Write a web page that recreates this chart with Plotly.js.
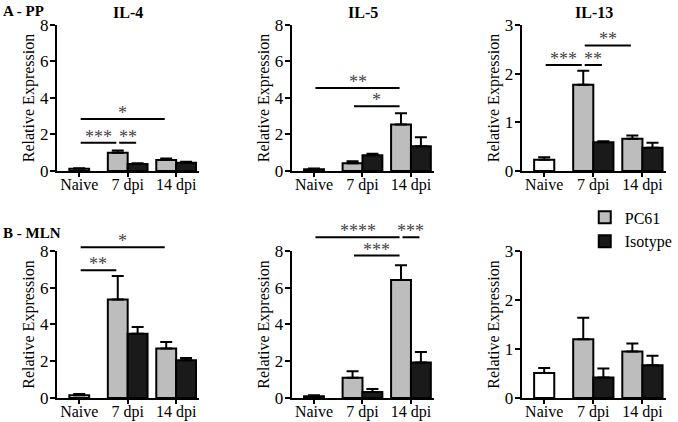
<!DOCTYPE html>
<html><head><meta charset="utf-8">
<script src="https://cdn.plot.ly/plotly-3.0.1.min.js"></script>
<style>html,body{margin:0;padding:0;background:#fff}#chart{width:678px;height:422px}</style>
</head><body><div id="chart"></div>
<script>
// ---- data ----
const categories = ['Naive', '7 dpi', '14 dpi'];
const infectedGroups = ['7 dpi', '14 dpi'];
const seriesNames = ['PC61', 'Isotype'];
const cytokines = ['IL-4', 'IL-5', 'IL-13'];
const tissues = ['A - PP', 'B - MLN'];
const yTicks8 = [0, 2, 4, 6, 8];
const yTicks3 = [0, 1, 2, 3];
const yTitle = 'Relative Expression';

// A - PP
const ppIL4Naive = [0.12], ppIL4NaiveErr = [0.03];
const ppIL4PC61 = [1.0, 0.6], ppIL4PC61Err = [0.12, 0.08];
const ppIL4Iso = [0.38, 0.45], ppIL4IsoErr = [0.05, 0.05];
const ppIL4Sig = [['Naive', '14P', 2.85, '*'], ['Naive', '7P', 1.55, '***'], ['7P', '7I', 1.55, '**']];

const ppIL5Naive = [0.1], ppIL5NaiveErr = [0.03];
const ppIL5PC61 = [0.42, 2.55], ppIL5PC61Err = [0.12, 0.62];
const ppIL5Iso = [0.86, 1.35], ppIL5IsoErr = [0.08, 0.5];
const ppIL5Sig = [['Naive', '14P', 4.55, '**'], ['7P', '14P', 3.55, '*']];

const ppIL13Naive = [0.23], ppIL13NaiveErr = [0.05];
const ppIL13PC61 = [1.77, 0.66], ppIL13PC61Err = [0.29, 0.07];
const ppIL13Iso = [0.59, 0.48], ppIL13IsoErr = [0.02, 0.1];
const ppIL13Sig = [['Naive', '7P', 2.18, '***'], ['7P', '7I', 2.18, '**'], ['7P', '14P', 2.58, '**']];

// B - MLN
const mlnIL4Naive = [0.15], mlnIL4NaiveErr = [0.07];
const mlnIL4PC61 = [5.36, 2.7], mlnIL4PC61Err = [1.28, 0.35];
const mlnIL4Iso = [3.5, 2.05], mlnIL4IsoErr = [0.37, 0.12];
const mlnIL4Sig = [['Naive', '14P', 8.2, '*'], ['Naive', '7P', 6.95, '**']];

const mlnIL5Naive = [0.1], mlnIL5NaiveErr = [0.05];
const mlnIL5PC61 = [1.1, 6.42], mlnIL5PC61Err = [0.35, 0.8];
const mlnIL5Iso = [0.32, 1.93], mlnIL5IsoErr = [0.17, 0.57];
const mlnIL5Sig = [['Naive', '14P', 8.75, '****'], ['7P', '14P', 7.75, '***'], ['14P', '14I', 8.75, '***']];

const mlnIL13Naive = [0.51], mlnIL13NaiveErr = [0.1];
const mlnIL13PC61 = [1.2, 0.95], mlnIL13PC61Err = [0.44, 0.16];
const mlnIL13Iso = [0.42, 0.67], mlnIL13IsoErr = [0.18, 0.19];
const mlnIL13Sig = [];

// ---- layout helpers ----
const FONT = 'Liberation Serif';
const colDomains = [[0.0855, 0.2994], [0.438, 0.652], [0.7832, 1.0]];
const rowDomains = [[0.5948, 0.9408], [0.0569, 0.4052]];
const barW = 0.41;
const GRAY = '#bdbdbd', BLACK = '#1a1a1a';

const panels = [
  {naive: ppIL4Naive, naiveErr: ppIL4NaiveErr, pc: ppIL4PC61, pcErr: ppIL4PC61Err, iso: ppIL4Iso, isoErr: ppIL4IsoErr, sig: ppIL4Sig, ticks: yTicks8},
  {naive: ppIL5Naive, naiveErr: ppIL5NaiveErr, pc: ppIL5PC61, pcErr: ppIL5PC61Err, iso: ppIL5Iso, isoErr: ppIL5IsoErr, sig: ppIL5Sig, ticks: yTicks8},
  {naive: ppIL13Naive, naiveErr: ppIL13NaiveErr, pc: ppIL13PC61, pcErr: ppIL13PC61Err, iso: ppIL13Iso, isoErr: ppIL13IsoErr, sig: ppIL13Sig, ticks: yTicks3},
  {naive: mlnIL4Naive, naiveErr: mlnIL4NaiveErr, pc: mlnIL4PC61, pcErr: mlnIL4PC61Err, iso: mlnIL4Iso, isoErr: mlnIL4IsoErr, sig: mlnIL4Sig, ticks: yTicks8},
  {naive: mlnIL5Naive, naiveErr: mlnIL5NaiveErr, pc: mlnIL5PC61, pcErr: mlnIL5PC61Err, iso: mlnIL5Iso, isoErr: mlnIL5IsoErr, sig: mlnIL5Sig, ticks: yTicks8},
  {naive: mlnIL13Naive, naiveErr: mlnIL13NaiveErr, pc: mlnIL13PC61, pcErr: mlnIL13PC61Err, iso: mlnIL13Iso, isoErr: mlnIL13IsoErr, sig: mlnIL13Sig, ticks: yTicks3}
];

function barCenter(key) {
  if (key === 'Naive') return 0;
  const cat = key.startsWith('14') ? 2 : 1;
  return key.endsWith('P') ? cat - barW / 2 : cat + barW / 2;
}

function errY(arr) {
  return {type: 'data', array: arr, arrayminus: arr.map(() => 0), symmetric: false,
          color: '#000', thickness: 2, width: 6};
}
function fnt(size, color) { return {family: FONT, size: size, color: color || '#000'}; }

const traces = [], shapes = [], annotations = [];
const layout = {
  width: 678, height: 422,
  margin: {l: 0, r: 0, t: 0, b: 0},
  paper_bgcolor: '#fff', plot_bgcolor: 'rgba(0,0,0,0)',
  barmode: 'overlay',
  showlegend: true,
  legend: {x: 0.878, y: 0.525, xanchor: 'left', yanchor: 'top', bgcolor: 'rgba(0,0,0,0)',
           font: fnt(16), traceorder: 'normal', itemwidth: 30},
  hovermode: false
};

panels.forEach((p, i) => {
  const n = i + 1;
  const xa = n === 1 ? 'x' : 'x' + n, ya = n === 1 ? 'y' : 'y' + n;
  const row = Math.floor(i / 3), col = i % 3;
  const ymax = p.ticks[p.ticks.length - 1];
  traces.push({type: 'bar', x: [categories[0]], y: p.naive, xaxis: xa, yaxis: ya,
    width: barW, offset: -barW / 2, showlegend: false,
    marker: {color: '#fff', line: {color: '#000', width: 2}}, error_y: errY(p.naiveErr)});
  traces.push({type: 'bar', name: seriesNames[0], x: infectedGroups, y: p.pc, xaxis: xa, yaxis: ya,
    width: barW, offset: -barW, showlegend: i === 0, legendgroup: 'pc',
    marker: {color: GRAY, line: {color: '#000', width: 2}}, error_y: errY(p.pcErr)});
  traces.push({type: 'bar', name: seriesNames[1], x: infectedGroups, y: p.iso, xaxis: xa, yaxis: ya,
    width: barW, offset: 0, showlegend: i === 0, legendgroup: 'iso',
    marker: {color: BLACK, line: {color: '#000', width: 2}}, error_y: errY(p.isoErr)});

  layout['xaxis' + (n === 1 ? '' : n)] = {
    domain: colDomains[col], anchor: ya, type: 'category',
    categoryorder: 'array', categoryarray: categories, range: [-0.46, 2.48],
    showline: true, linecolor: '#000', linewidth: 2, ticks: 'outside', ticklen: 4, tickwidth: 2,
    tickcolor: '#000', showgrid: false, zeroline: false, fixedrange: true,
    ticklabelstandoff: -6, tickfont: fnt(16)
  };
  layout['yaxis' + (n === 1 ? '' : n)] = {
    domain: rowDomains[row], anchor: xa, range: [0, ymax], tickmode: 'array', tickvals: p.ticks,
    showline: true, linecolor: '#000', linewidth: 2, ticks: 'outside', ticklen: 5, tickwidth: 2,
    tickcolor: '#000', showgrid: false, zeroline: false, fixedrange: true,
    ticklabelstandoff: -2, tickfont: fnt(17),
    title: {text: yTitle, font: fnt(16), standoff: 1}
  };

  // significance brackets
  p.sig.forEach(s => {
    const x0 = barCenter(s[0]) + 0.03, x1 = barCenter(s[1]) - 0.03;
    const yf = s[2] / ymax;
    shapes.push({type: 'line', xref: xa, yref: ya + ' domain', x0: x0, x1: x1, y0: yf, y1: yf,
                 line: {color: '#000', width: 2}});
    annotations.push({xref: xa, yref: ya + ' domain', x: (x0 + x1) / 2, y: yf, yanchor: 'bottom',
                      text: s[3], showarrow: false, yshift: -6, font: fnt(18, '#444')});
  });

  if (row === 0) {
    annotations.push({xref: xa + ' domain', yref: ya + ' domain', x: 0.5, y: 1, yanchor: 'bottom',
                      yshift: 2, text: '<b>' + cytokines[col] + '</b>', showarrow: false, font: fnt(16)});
  }
});

annotations.push({xref: 'paper', yref: 'paper', x: 0.002, xanchor: 'left', y: 1 - 11 / 422, yanchor: 'middle',
                  text: '<b>' + tissues[0] + '</b>', showarrow: false, font: fnt(15)});
annotations.push({xref: 'paper', yref: 'paper', x: 0.002, xanchor: 'left', y: 1 - 233 / 422, yanchor: 'middle',
                  text: '<b>' + tissues[1] + '</b>', showarrow: false, font: fnt(15)});

layout.shapes = shapes;
layout.annotations = annotations;

Plotly.newPlot('chart', traces, layout, {staticPlot: true, displayModeBar: false});
</script>
</body></html>
